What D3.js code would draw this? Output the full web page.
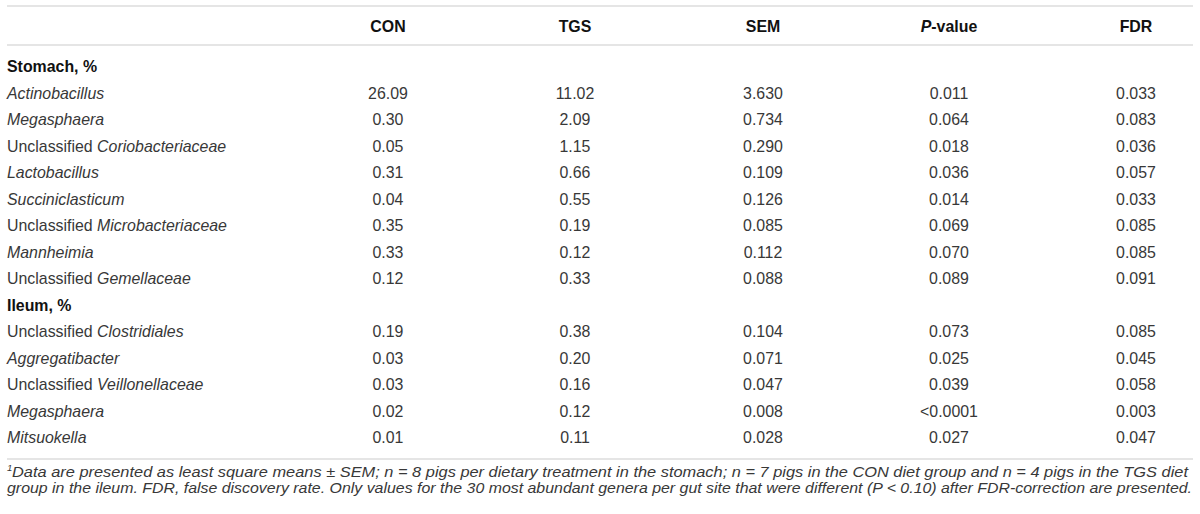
<!DOCTYPE html>
<html><head><meta charset="utf-8">
<script src="https://cdn.jsdelivr.net/npm/d3@7/dist/d3.min.js"></script>
<style>
html,body{margin:0;padding:0;background:#fff;}
svg text{font-family:"Liberation Sans",Arial,Helvetica,sans-serif;}
</style></head>
<body>
<svg id="t" width="1200" height="514"></svg>
<script>
const columns = ["CON","TGS","SEM","P-value","FDR"];
const groups = ["Stomach, %","Ileum, %"];
// label: [plain prefix, italic part]
const stomachTaxa = [["","Actinobacillus"],["","Megasphaera"],["Unclassified ","Coriobacteriaceae"],["","Lactobacillus"],["","Succiniclasticum"],["Unclassified ","Microbacteriaceae"],["","Mannheimia"],["Unclassified ","Gemellaceae"]];
const stomachCON = ["26.09","0.30","0.05","0.31","0.04","0.35","0.33","0.12"];
const stomachTGS = ["11.02","2.09","1.15","0.66","0.55","0.19","0.12","0.33"];
const stomachSEM = ["3.630","0.734","0.290","0.109","0.126","0.085","0.112","0.088"];
const stomachP   = ["0.011","0.064","0.018","0.036","0.014","0.069","0.070","0.089"];
const stomachFDR = ["0.033","0.083","0.036","0.057","0.033","0.085","0.085","0.091"];
const ileumTaxa = [["Unclassified ","Clostridiales"],["","Aggregatibacter"],["Unclassified ","Veillonellaceae"],["","Megasphaera"],["","Mitsuokella"]];
const ileumCON = ["0.19","0.03","0.03","0.02","0.01"];
const ileumTGS = ["0.38","0.20","0.16","0.12","0.11"];
const ileumSEM = ["0.104","0.071","0.047","0.008","0.028"];
const ileumP   = ["0.073","0.025","0.039","<0.0001","0.027"];
const ileumFDR = ["0.085","0.045","0.058","0.003","0.047"];
const footLines = [
 ["1","Data are presented as least square means \u00B1 SEM; n = 8 pigs per dietary treatment in the stomach; n = 7 pigs in the CON diet group and n = 4 pigs in the TGS diet"],
 ["","group in the ileum. FDR, false discovery rate. Only values for the 30 most abundant genera per gut site that were different (P < 0.10) after FDR-correction are presented."]
];

// build rows
const rows = [];
rows.push({type:"group", label:groups[0]});
stomachTaxa.forEach((t,i)=>rows.push({type:"data", label:t, vals:[stomachCON[i],stomachTGS[i],stomachSEM[i],stomachP[i],stomachFDR[i]]}));
rows.push({type:"group", label:groups[1]});
ileumTaxa.forEach((t,i)=>rows.push({type:"data", label:t, vals:[ileumCON[i],ileumTGS[i],ileumSEM[i],ileumP[i],ileumFDR[i]]}));

const svg = d3.select("#t");
const left = 7, right = 1193;
const x = d3.scaleOrdinal().domain(columns).range([388, 575, 763, 949, 1136]);
const y = d3.scaleLinear().domain([0, rows.length-1]).range([66.5, 437.5]);
const lineColor = "#dcdcdc";
const textColor = "#383838";
const fs = 15.9;

// rules
[6, 45, 459].forEach(yy=>{
  svg.append("line").attr("x1",left).attr("x2",right).attr("y1",yy).attr("y2",yy)
    .attr("stroke",lineColor).attr("stroke-width",1.6);
});

// header
const hdr = svg.append("g");
columns.forEach(c=>{
  const t = hdr.append("text").attr("x",x(c)).attr("y",26.5).attr("dy","0.35em")
    .attr("text-anchor","middle").attr("font-weight","bold").attr("font-size",fs).attr("fill","#111");
  if(c==="P-value"){
    t.append("tspan").attr("font-style","italic").text("P");
    t.append("tspan").text("-value");
  } else t.text(c);
});

// body rows
const g = svg.append("g").selectAll("g").data(rows).join("g")
  .attr("transform",(d,i)=>`translate(0,${y(i)})`);

g.filter(d=>d.type==="group").append("text")
  .attr("x",7).attr("dy","0.35em").attr("font-weight","bold").attr("font-size",fs).attr("fill","#111")
  .text(d=>d.label);

const dr = g.filter(d=>d.type==="data");
const lab = dr.append("text").attr("x",7).attr("dy","0.35em").attr("font-size",fs).attr("fill",textColor);
lab.append("tspan").text(d=>d.label[0]);
lab.append("tspan").attr("font-style","italic").text(d=>d.label[1]);

dr.selectAll("text.v").data(d=>d.vals.map((v,j)=>({v, c:columns[j]}))).join("text")
  .attr("class","v").attr("x",d=>x(d.c)).attr("dy","0.35em").attr("text-anchor","middle")
  .attr("font-size",fs).attr("fill",textColor).text(d=>d.v);

// footnote
const fy = d3.scaleLinear().domain([0,1]).range([477, 493]);
const fEnd = [1188, 1192];
footLines.forEach((l,i)=>{
  const fx = l[0] ? 12 : 7;
  if(l[0]) svg.append("text").attr("x",7).attr("y",fy(i)-6).attr("font-size",9.5)
      .attr("font-style","italic").attr("fill",textColor).text(l[0]);
  svg.append("text").attr("x",fx).attr("y",fy(i)).attr("font-size",15)
    .attr("font-style","italic").attr("fill",textColor)
    .attr("textLength", fEnd[i]-fx).attr("lengthAdjust","spacingAndGlyphs")
    .text(l[1]);
});
</script>
</body></html>
